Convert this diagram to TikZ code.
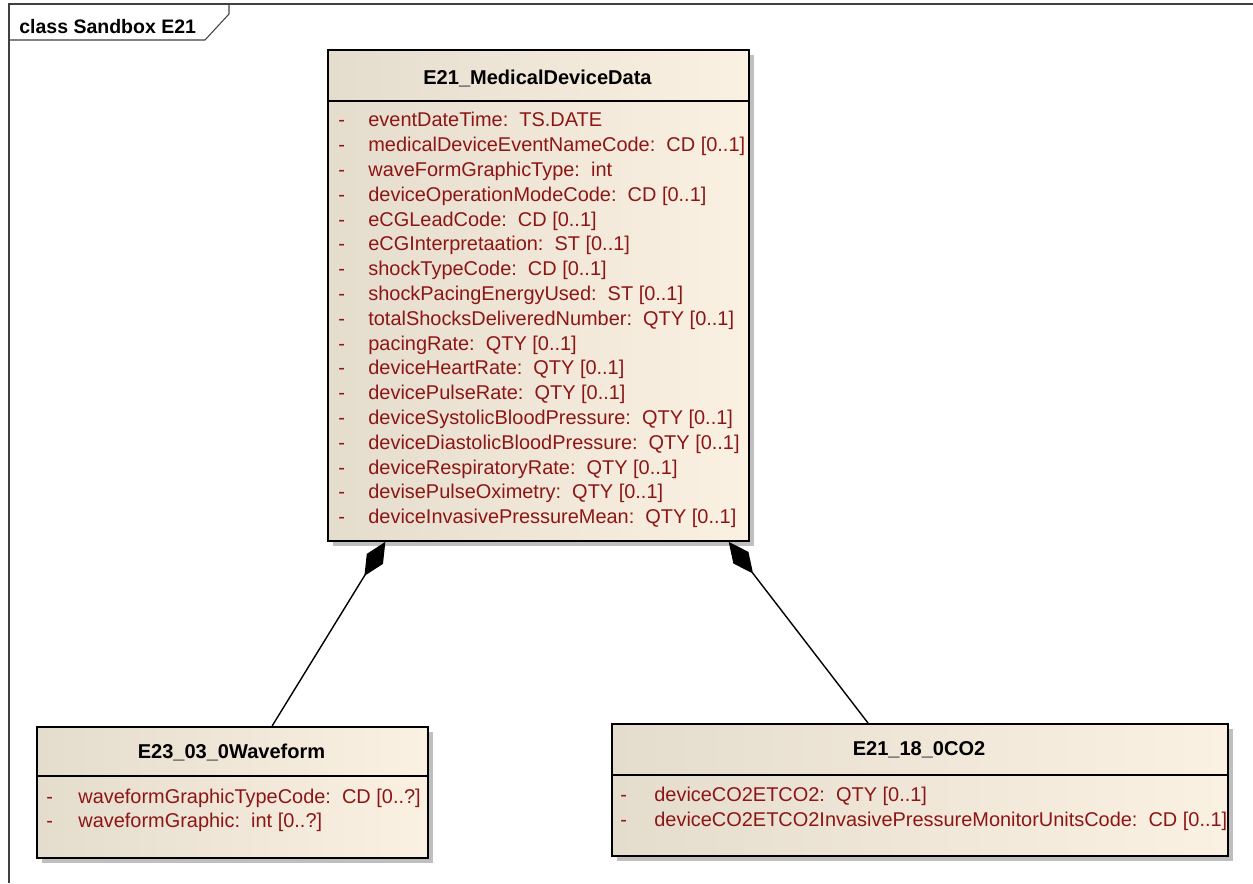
\documentclass[tikz,border=0pt]{standalone}
\usepackage{fontspec}
\setmainfont{Liberation Sans}
\usetikzlibrary{arrows.meta, calc, shadows}
\definecolor{attrred}{RGB}{140,22,22}
\definecolor{boxleft}{RGB}{228,220,205}
\definecolor{boxright}{RGB}{251,241,226}
\tikzset{
  classbox/.style={draw=black, line width=1.1pt, left color=boxleft, right color=boxright,
    inner sep=0pt, anchor=north west,
    drop shadow={shadow xshift=0.11cm, shadow yshift=-0.11cm, fill=black!25, opacity=1}},
  classname/.style={font=\fontsize{11.4}{13}\selectfont\bfseries, inner sep=0pt},
  attr/.style={font=\fontsize{11.35}{13}\selectfont, text=attrred, anchor=base west, inner sep=0pt},
  comp/.style={line width=0.8pt, {Diamond[length=0.8cm, width=0.38cm]}-}
}
\begin{document}
\begin{tikzpicture}[x=0.02cm, y=-0.02cm]
  \useasboundingbox (0,0) rectangle (1253,883);
  % frame
  \draw[line width=0.6pt, black!75] (9,883) -- (9,4) -- (1253,4);
  \draw[line width=0.6pt, black!75] (9,40) -- (205,40) -- (229,14) -- (229,4);
  \node[anchor=west, inner sep=0pt, font=\fontsize{11.1}{13}\selectfont\bfseries] (frametitle) at (19,27) {class Sandbox E21};

  % E21_MedicalDeviceData
  \node[classbox, minimum width=8.42cm, minimum height=9.82cm] (mdd) at (327,49) {};
  \node[classname] (mddname) at (537.5,78) {E21\_MedicalDeviceData};
  \draw[line width=1.1pt] ($(mdd.north west)+(0,52)$) -- ($(mdd.north east)+(0,52)$);
  \foreach \txt [count=\i] in {eventDateTime:\ \ TS.DATE,
      medicalDeviceEventNameCode:\ \ CD [0..1],
      waveFormGraphicType:\ \ int,
      deviceOperationModeCode:\ \ CD [0..1],
      eCGLeadCode:\ \ CD [0..1],
      eCGInterpretaation:\ \ ST [0..1],
      shockTypeCode:\ \ CD [0..1],
      shockPacingEnergyUsed:\ \ ST [0..1],
      totalShocksDeliveredNumber:\ \ QTY [0..1],
      pacingRate:\ \ QTY [0..1],
      deviceHeartRate:\ \ QTY [0..1],
      devicePulseRate:\ \ QTY [0..1],
      deviceSystolicBloodPressure:\ \ QTY [0..1],
      deviceDiastolicBloodPressure:\ \ QTY [0..1],
      deviceRespiratoryRate:\ \ QTY [0..1],
      devisePulseOximetry:\ \ QTY [0..1],
      deviceInvasivePressureMean:\ \ QTY [0..1]} {
    \node[attr] (mdddash\i) at (338,102+24.8*\i) {-};
    \node[attr] (mddattr\i) at (368,102+24.8*\i) {\txt};
  }

  % E23_03_0Waveform
  \node[classbox, minimum width=7.82cm, minimum height=2.62cm] (wave) at (36,726) {};
  \node[classname] (wavename) at (231.5,752) {E23\_03\_0Waveform};
  \draw[line width=1.1pt] ($(wave.north west)+(0,50)$) -- ($(wave.north east)+(0,50)$);
  \node[attr] (wavedash1) at (46,803) {-};
  \node[attr] (waveattr1) at (78,803) {waveformGraphicTypeCode:\ \ CD [0..?]};
  \node[attr] (wavedash2) at (46,827) {-};
  \node[attr] (waveattr2) at (78,827) {waveformGraphic:\ \ int [0..?]};

  % E21_18_0CO2
  \node[classbox, minimum width=12.32cm, minimum height=2.64cm] (co2) at (611,723) {};
  \node[classname] (co2name) at (919,750) {E21\_18\_0CO2};
  \draw[line width=1.1pt] ($(co2.north west)+(0,52)$) -- ($(co2.north east)+(0,52)$);
  \node[attr] (co2dash1) at (620,801) {-};
  \node[attr] (co2attr1) at (654,801) {deviceCO2ETCO2:\ \ QTY [0..1]};
  \node[attr] (co2dash2) at (620,826) {-};
  \node[attr] (co2attr2) at (654,826) {deviceCO2ETCO2InvasivePressureMonitorUnitsCode:\ \ CD [0..1]};

  % compositions
  \draw[comp] ($(mdd.south west)!0.138!(mdd.south east)$) -- ($(wave.north west)!0.601!(wave.north east)$);
  \draw[comp] ($(mdd.south west)!0.950!(mdd.south east)$) -- ($(co2.north west)!0.416!(co2.north east)$);
\end{tikzpicture}
\end{document}
